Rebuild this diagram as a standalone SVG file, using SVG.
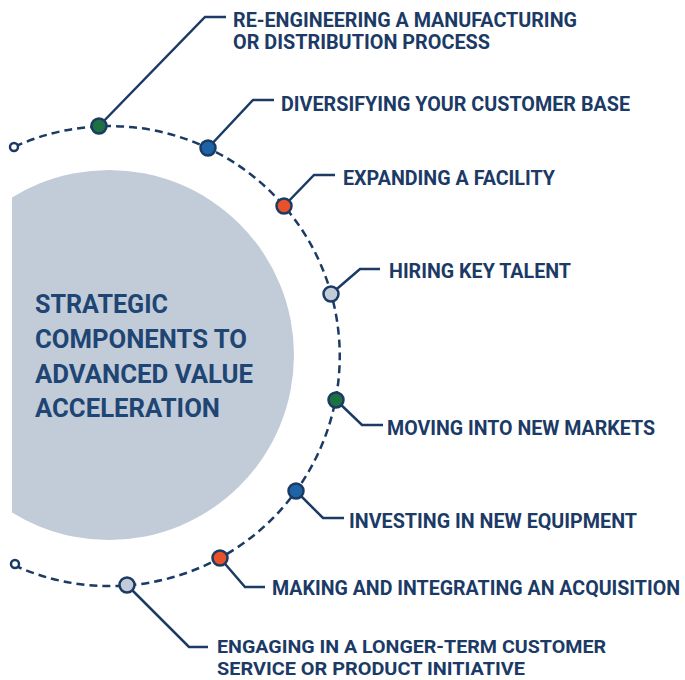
<svg xmlns="http://www.w3.org/2000/svg" width="685" height="680" viewBox="0 0 685 680">
<style>
.lead{fill:none;stroke:#1b3a64;stroke-width:2.5;stroke-linejoin:miter}
.dot{stroke:#1b3a64;stroke-width:2.5}
.lbl{font-family:Roboto,"Liberation Sans",sans-serif;font-weight:700;font-size:19.5px;fill:#1b3a66}
.sm{font-size:19px}
.ctr{font-family:Roboto,"Liberation Sans",sans-serif;font-weight:700;font-size:26px;fill:#1e4573}
.g{fill:#1d7140}.b{fill:#1d63a6}.o{fill:#e8512a}.s{fill:#c2ccd8}
</style>
<defs><clipPath id="cl"><rect x="12" y="0" width="673" height="680"/></clipPath></defs>
<rect width="685" height="680" fill="#ffffff"/>
<g id="center">
<circle cx="109" cy="355" r="185" fill="#c1ccd8" clip-path="url(#cl)"/>
<text class="ctr" x="35" y="313" textLength="133" lengthAdjust="spacingAndGlyphs">STRATEGIC</text>
<text class="ctr" x="35" y="348" textLength="212" lengthAdjust="spacingAndGlyphs">COMPONENTS TO</text>
<text class="ctr" x="35" y="383" textLength="218" lengthAdjust="spacingAndGlyphs">ADVANCED VALUE</text>
<text class="ctr" x="35" y="417" textLength="185" lengthAdjust="spacingAndGlyphs">ACCELERATION</text>
</g>
<g id="connectors">
<path d="M15,146.5 A230,230 0 1 1 14.2,565.3" fill="none" stroke="#1b3a64" stroke-width="2.5" stroke-dasharray="8,5"/>
<polyline class="lead" points="99,126 205,17 226,17"/>
<polyline class="lead" points="208,148 253,100 274,100"/>
<polyline class="lead" points="284,206 314,175 335,175"/>
<polyline class="lead" points="331,294 360,269 380,269"/>
<polyline class="lead" points="336,400 362,425 383,425"/>
<polyline class="lead" points="296,491 323,518 344,518"/>
<polyline class="lead" points="220,558 245,587 265,587"/>
<polyline class="lead" points="127,585 189,647 208,647"/>
<circle cx="14" cy="147" r="4" fill="#ffffff" stroke="#1b3a64" stroke-width="2.5"/>
<circle cx="15" cy="564" r="4" fill="#ffffff" stroke="#1b3a64" stroke-width="2.5"/>
</g>
<g id="n1"><circle class="dot g" cx="99" cy="126" r="7.5"/>
<text class="lbl" x="233" y="27" textLength="344" lengthAdjust="spacingAndGlyphs">RE-ENGINEERING A MANUFACTURING</text>
<text class="lbl" x="233" y="49" textLength="257" lengthAdjust="spacingAndGlyphs">OR DISTRIBUTION PROCESS</text></g>
<g id="n2"><circle class="dot b" cx="208" cy="148" r="7.5"/>
<text class="lbl" x="281" y="111" textLength="349" lengthAdjust="spacingAndGlyphs">DIVERSIFYING YOUR CUSTOMER BASE</text></g>
<g id="n3"><circle class="dot o" cx="284" cy="206" r="7.5"/>
<text class="lbl" x="343" y="185" textLength="212" lengthAdjust="spacingAndGlyphs">EXPANDING A FACILITY</text></g>
<g id="n4"><circle class="dot s" cx="331" cy="294" r="7.5"/>
<text class="lbl" x="389" y="278" textLength="182" lengthAdjust="spacingAndGlyphs">HIRING KEY TALENT</text></g>
<g id="n5"><circle class="dot g" cx="336" cy="400" r="7.5"/>
<text class="lbl" x="387" y="435" textLength="268" lengthAdjust="spacingAndGlyphs">MOVING INTO NEW MARKETS</text></g>
<g id="n6"><circle class="dot b" cx="296" cy="491" r="7.5"/>
<text class="lbl" x="349" y="528" textLength="288" lengthAdjust="spacingAndGlyphs">INVESTING IN NEW EQUIPMENT</text></g>
<g id="n7"><circle class="dot o" cx="220" cy="558" r="7.5"/>
<text class="lbl" x="272" y="595" textLength="408" lengthAdjust="spacingAndGlyphs">MAKING AND INTEGRATING AN ACQUISITION</text></g>
<g id="n8"><circle class="dot s" cx="127" cy="585" r="7.5"/>
<text class="lbl sm" x="217" y="653" textLength="389" lengthAdjust="spacingAndGlyphs">ENGAGING IN A LONGER-TERM CUSTOMER</text>
<text class="lbl sm" x="217" y="675" textLength="308" lengthAdjust="spacingAndGlyphs">SERVICE OR PRODUCT INITIATIVE</text></g>
</svg>
